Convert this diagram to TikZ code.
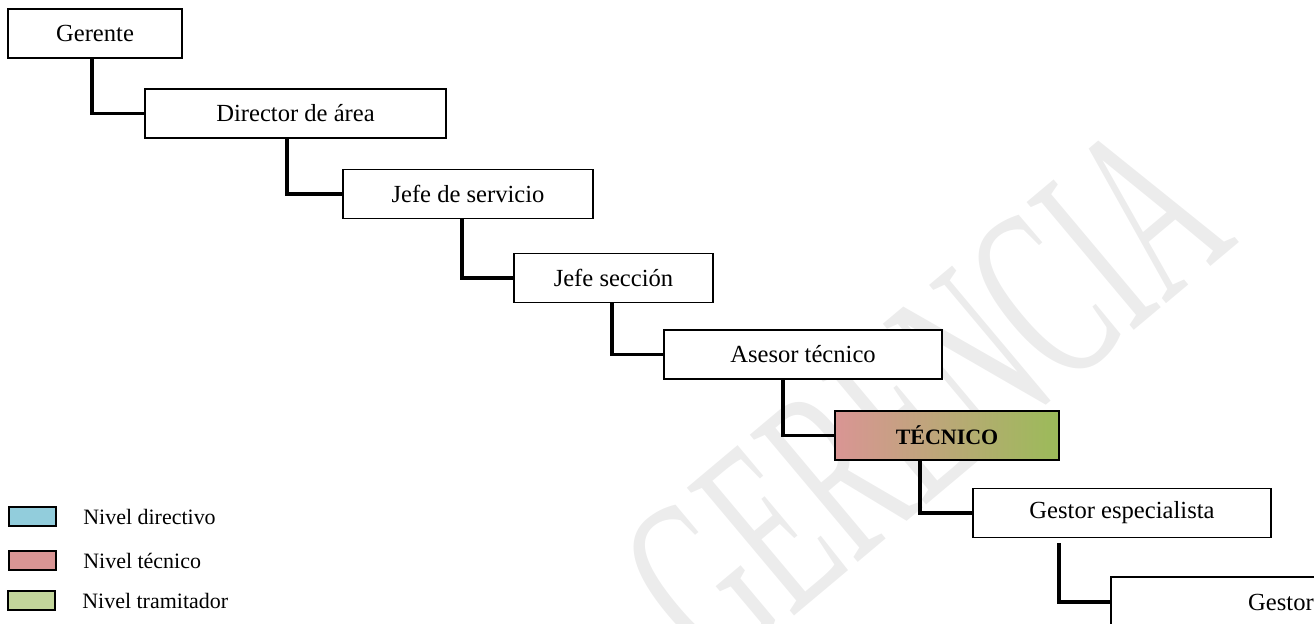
\documentclass[tikz,border=0pt]{standalone}
\usepackage{fontspec}
\setmainfont{Liberation Serif}
\usetikzlibrary{calc}

\definecolor{azuldir}{HTML}{92CDDC}
\definecolor{rojotec}{HTML}{D99594}
\definecolor{verdetram}{HTML}{C3D69B}
\definecolor{verdetec}{HTML}{9BBB59}

\begin{document}
\begin{tikzpicture}[x=0.02cm,y=-0.02cm,
    puesto/.style={draw=black,line width=1pt,fill=white,minimum height=0.98cm,inner sep=0pt,font=\fontsize{14}{16}\selectfont},
    enlace/.style={draw=black,line width=2pt},
    cuadro/.style={draw=black,line width=1pt,minimum width=0.94cm,minimum height=0.38cm,inner sep=0pt},
    leyenda/.style={anchor=west,inner sep=0pt,font=\fontsize{12.5}{14}\selectfont},
    marca/.style={text=gray!15,inner sep=0pt,font=\fontsize{145}{145}\selectfont}]
    \useasboundingbox (0,0) rectangle (1314,623);
    \clip (0,0) rectangle (1314,623);

    % Watermark
    \node[marca,rotate=40] (marca) at (925,398) {\scalebox{0.53}[1]{GERENCIA}};

    % Positions
    \node[puesto,minimum width=3.48cm] (ger) at (95,33.5) {Gerente};
    \node[puesto,minimum width=6.02cm] (dir) at (295.5,113.5) {Director de área};
    \node[puesto,minimum width=5.00cm] (jserv) at (468,194) {Jefe de servicio};
    \node[puesto,minimum width=3.98cm] (jsec) at (613.5,278) {Jefe sección};
    \node[puesto,minimum width=5.56cm] (ases) at (803,354.5) {Asesor técnico};
    \node[puesto,minimum width=4.48cm,left color=rojotec,right color=verdetec,
          font=\fontsize{12.5}{14}\selectfont\bfseries] (tec) at (947,435.5) {TÉCNICO};
    \node[puesto,minimum width=5.96cm] (gesp) at (1122,513) {Gestor especialista};
    \node[puesto,minimum width=6.80cm,minimum height=1.00cm] (gest) at (1281,602) {Gestor};

    % Links
    \draw[enlace] ($(ger.south west)+(85,0)$) |- (dir.west);
    \draw[enlace] ($(dir.south west)+(143,0)$) |- (jserv.west);
    \draw[enlace] ($(jserv.south west)+(120,0)$) |- (jsec.west);
    \draw[enlace] ($(jsec.south west)+(99,0)$) |- (ases.west);
    \draw[enlace] ($(ases.south west)+(120,0)$) |- (tec.west);
    \draw[enlace] ($(tec.south west)+(86,0)$) |- (gesp.west);
    \draw[enlace] ($(gesp.south west)+(87,5)$) |- (gest.west);

    % Legend
    \node[cuadro,fill=azuldir] (ldir) at (32.5,516.5) {};
    \node[leyenda] (tdir) at (83,516.5) {Nivel directivo};
    \node[cuadro,fill=rojotec] (ltec) at (32.5,560.5) {};
    \node[leyenda] (ttec) at (83,560.5) {Nivel técnico};
    \node[cuadro,fill=verdetram] (ltram) at (31.5,600.5) {};
    \node[leyenda] (ttram) at (82,600.5) {Nivel tramitador};
\end{tikzpicture}
\end{document}
